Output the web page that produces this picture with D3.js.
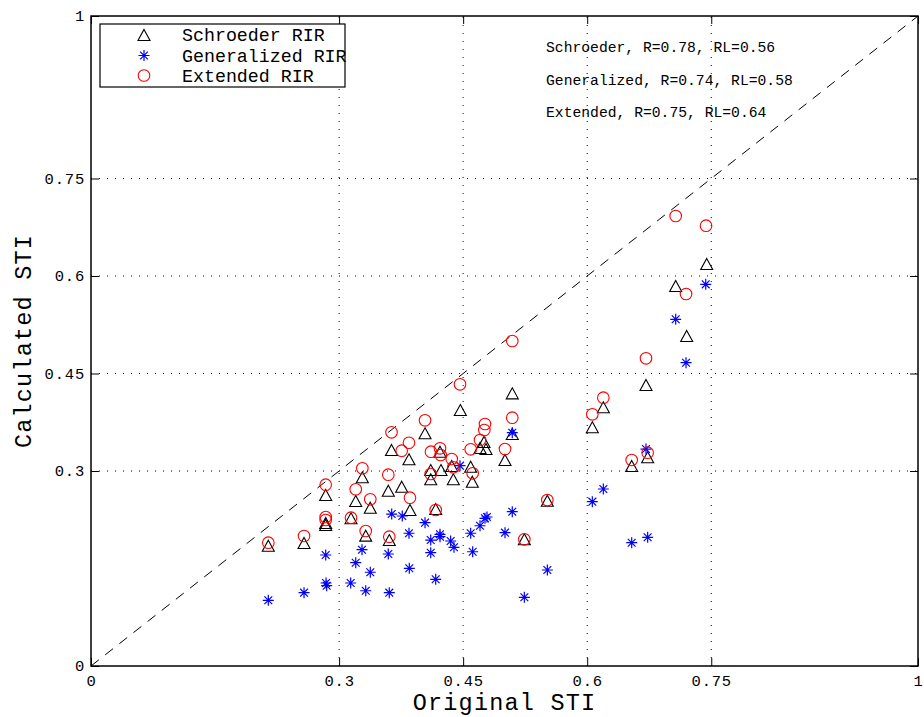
<!DOCTYPE html>
<html>
<head>
<meta charset="utf-8">
<script src="https://cdn.jsdelivr.net/npm/d3@7/dist/d3.min.js"></script>
<style>
  html, body { margin: 0; padding: 0; background: #fff; }
  svg { display: block; }
  text { font-family: "Liberation Mono", "DejaVu Sans Mono", monospace; fill: #000; }
</style>
</head>
<body>
<svg id="chart" width="924" height="717"></svg>
<script>
// Tick values shared by both axes
const tickValues = [0, 0.3, 0.45, 0.6, 0.75, 1];
const gridValues = [0.3, 0.45, 0.6, 0.75];

// Schroeder RIR: original STI vs calculated STI
const schroederX = [0.2144, 0.2576, 0.2838, 0.2838, 0.2838, 0.3144, 0.3201, 0.3281, 0.3322, 0.3377,
  0.3595, 0.3607, 0.3634, 0.3757, 0.3845, 0.3857, 0.4039, 0.4108, 0.4108, 0.4168,
  0.4220, 0.4232, 0.4362, 0.4381, 0.4466, 0.4591, 0.4611, 0.4704, 0.4752, 0.4776,
  0.5006, 0.5094, 0.5094, 0.5240, 0.5518, 0.6062, 0.6195, 0.6538, 0.6731, 0.6711,
  0.7070, 0.7203, 0.7445];
const schroederY = [0.1851, 0.1892, 0.2631, 0.2200, 0.2169, 0.2272, 0.2538, 0.2903, 0.2005, 0.2435,
  0.2697, 0.1938, 0.3323, 0.2758, 0.3180, 0.2400, 0.3580, 0.3015, 0.2872, 0.2415,
  0.3297, 0.3015, 0.3077, 0.2872, 0.3938, 0.3066, 0.2835, 0.3354, 0.3446, 0.3338,
  0.3169, 0.4195, 0.3569, 0.1949, 0.2543, 0.3672, 0.3980, 0.3077, 0.3211, 0.4323,
  0.5846, 0.5077, 0.6185];

// Generalized RIR
const generalizedX = [0.2144, 0.2576, 0.2838, 0.2842, 0.2850, 0.3140, 0.3201, 0.3277, 0.3322, 0.3377,
  0.3595, 0.3607, 0.3636, 0.3764, 0.3845, 0.3849, 0.4039, 0.4108, 0.4108, 0.4168,
  0.4220, 0.4220, 0.4349, 0.4389, 0.4462, 0.4591, 0.4615, 0.4704, 0.4764, 0.4788,
  0.5006, 0.5094, 0.5094, 0.5240, 0.5518, 0.6062, 0.6195, 0.6538, 0.6711, 0.6731,
  0.7070, 0.7195, 0.7433];
const generalizedY = [0.1011, 0.1128, 0.1708, 0.1277, 0.1235, 0.1277, 0.1589, 0.1789, 0.1158, 0.1442,
  0.1723, 0.1128, 0.2338, 0.2308, 0.2042, 0.1503, 0.2205, 0.1938, 0.1743, 0.1334,
  0.2026, 0.1989, 0.1923, 0.1826, 0.3082, 0.2042, 0.1758, 0.2158, 0.2272, 0.2292,
  0.2051, 0.3589, 0.2374, 0.1057, 0.1477, 0.2528, 0.2723, 0.1897, 0.3338, 0.1980,
  0.5334, 0.4666, 0.5872];

// Extended RIR
const extendedX = [0.2144, 0.2576, 0.2838, 0.2838, 0.2838, 0.3144, 0.3201, 0.3281, 0.3322, 0.3377,
  0.3595, 0.3607, 0.3634, 0.3757, 0.3845, 0.3857, 0.4039, 0.4111, 0.4108, 0.4168,
  0.4220, 0.4228, 0.4362, 0.4381, 0.4462, 0.4591, 0.4615, 0.4704, 0.4756, 0.4764,
  0.5006, 0.5094, 0.5094, 0.5240, 0.5518, 0.6062, 0.6195, 0.6538, 0.6731, 0.6711,
  0.7070, 0.7195, 0.7437];
const extendedY = [0.1897, 0.2000, 0.2789, 0.2292, 0.2246, 0.2282, 0.2718, 0.3042, 0.2077, 0.2565,
  0.2943, 0.1989, 0.3595, 0.3312, 0.3435, 0.2589, 0.3780, 0.3297, 0.2954, 0.2400,
  0.3349, 0.3246, 0.3185, 0.3057, 0.4334, 0.3334, 0.2965, 0.3477, 0.3631, 0.3723,
  0.3338, 0.5000, 0.3820, 0.1949, 0.2554, 0.3872, 0.4128, 0.3169, 0.3282, 0.4734,
  0.6923, 0.5723, 0.6774];

const seriesNames = ["Schroeder RIR", "Generalized RIR", "Extended RIR"];
const statLines = [
  "Schroeder, R=0.78, RL=0.56",
  "Generalized, R=0.74, RL=0.58",
  "Extended, R=0.75, RL=0.64"
];

const margin = { left: 91, top: 16, right: 6, bottom: 51 };
const W = 924, H = 717;
const svg = d3.select("#chart");

const x = d3.scaleLinear().domain([0, 1]).range([margin.left, W - margin.right]);
const y = d3.scaleLinear().domain([0, 1]).range([H - margin.bottom, margin.top]);

const x0 = x(0), x1 = x(1), y0 = y(0), y1 = y(1);

// Dotted grid
const grid = svg.append("g");
grid.selectAll("line.gx").data(gridValues).join("line")
  .attr("x1", d => x(d)).attr("x2", d => x(d)).attr("y1", y0).attr("y2", y1)
  .attr("stroke", "#000").attr("stroke-width", 1).attr("stroke-dasharray", "1,7");
grid.selectAll("line.gy").data(gridValues).join("line")
  .attr("y1", d => y(d)).attr("y2", d => y(d)).attr("x1", x0).attr("x2", x1)
  .attr("stroke", "#000").attr("stroke-width", 1).attr("stroke-dasharray", "1,7");

// Identity line
svg.append("line")
  .attr("x1", x(0)).attr("y1", y(0)).attr("x2", x(1)).attr("y2", y(1))
  .attr("stroke", "#000").attr("stroke-width", 1).attr("stroke-dasharray", "10,8");

// Axes with inward ticks, mirrored on all four sides
const tickLen = 8;
const fmt = d => String(d);
svg.append("g").attr("transform", `translate(0,${y0})`)
  .call(d3.axisBottom(x).tickValues(tickValues).tickSize(-tickLen).tickPadding(9).tickFormat(fmt))
  .call(g => g.select(".domain").remove())
  .call(g => g.selectAll("text").attr("font-size", 15.5).attr("letter-spacing", 0.8)
    .attr("font-family", "Liberation Mono"));
svg.append("g").attr("transform", `translate(${x0},0)`)
  .call(d3.axisLeft(y).tickValues(tickValues).tickSize(-tickLen).tickPadding(6).tickFormat(fmt))
  .call(g => g.select(".domain").remove())
  .call(g => g.selectAll("text").attr("font-size", 15.5).attr("letter-spacing", 0.8)
    .attr("font-family", "Liberation Mono"));
svg.append("g").attr("transform", `translate(0,${y1})`)
  .call(d3.axisTop(x).tickValues(tickValues).tickSize(-tickLen).tickFormat(""))
  .call(g => g.select(".domain").remove());
svg.append("g").attr("transform", `translate(${x1},0)`)
  .call(d3.axisRight(y).tickValues(tickValues).tickSize(-tickLen).tickFormat(""))
  .call(g => g.select(".domain").remove());

// Plot frame
svg.append("rect")
  .attr("x", x0).attr("y", y1).attr("width", x1 - x0).attr("height", y0 - y1)
  .attr("fill", "none").attr("stroke", "#000").attr("stroke-width", 1.5);

// Marker shapes
const triPath = "M0,-5.5L6,5.5L-6,5.5Z";
const s = 5.5, d45 = s * 0.7071;
const starPath = `M${-s},0L${s},0M0,${-s}L0,${s}M${-d45},${-d45}L${d45},${d45}M${-d45},${d45}L${d45},${-d45}`;

function drawTriangles(g, xs, ys) {
  g.selectAll("path.tri").data(xs.map((v, i) => [v, ys[i]])).join("path")
    .attr("class", "tri").attr("d", triPath)
    .attr("transform", d => `translate(${x(d[0])},${y(d[1])})`)
    .attr("fill", "none").attr("stroke", "#000").attr("stroke-width", 1.1);
}
function drawStars(g, xs, ys) {
  g.selectAll("path.star").data(xs.map((v, i) => [v, ys[i]])).join("path")
    .attr("class", "star").attr("d", starPath)
    .attr("transform", d => `translate(${x(d[0])},${y(d[1])})`)
    .attr("fill", "none").attr("stroke", "#0000ff").attr("stroke-width", 1.2);
}
function drawCircles(g, xs, ys) {
  g.selectAll("circle.c").data(xs.map((v, i) => [v, ys[i]])).join("circle")
    .attr("class", "c").attr("r", 5.8)
    .attr("cx", d => x(d[0])).attr("cy", d => y(d[1]))
    .attr("fill", "none").attr("stroke", "#ff0000").attr("stroke-width", 1.1);
}

drawTriangles(svg.append("g"), schroederX, schroederY);
drawStars(svg.append("g"), generalizedX, generalizedY);
drawCircles(svg.append("g"), extendedX, extendedY);

// Axis titles
svg.append("text").attr("x", (x0 + x1) / 2).attr("y", 710)
  .attr("text-anchor", "middle").attr("font-size", 23.5).attr("letter-spacing", 1.2)
  .text("Original STI");
svg.append("text")
  .attr("transform", `translate(31,${(y0 + y1) / 2}) rotate(-90)`)
  .attr("text-anchor", "middle").attr("font-size", 23.5).attr("letter-spacing", 1.2)
  .text("Calculated STI");

// Legend
const lg = svg.append("g");
lg.append("rect").attr("x", 100).attr("y", 24).attr("width", 245).attr("height", 63)
  .attr("fill", "#fff").attr("stroke", "#000").attr("stroke-width", 1.2);
const rowsY = [35, 55.5, 75.5];
lg.append("path").attr("d", triPath).attr("transform", `translate(144,${rowsY[0]})`)
  .attr("fill", "none").attr("stroke", "#000").attr("stroke-width", 1.1);
lg.append("path").attr("d", starPath).attr("transform", `translate(144,${rowsY[1]})`)
  .attr("fill", "none").attr("stroke", "#0000ff").attr("stroke-width", 1.2);
lg.append("circle").attr("cx", 144).attr("cy", rowsY[2]).attr("r", 5.8)
  .attr("fill", "none").attr("stroke", "#ff0000").attr("stroke-width", 1.1);
lg.selectAll("text").data(seriesNames).join("text")
  .attr("x", 182).attr("y", (d, i) => rowsY[i] + 6)
  .attr("font-size", 18.3).text(d => d);

// Correlation annotations
svg.selectAll("text.stat").data(statLines).join("text")
  .attr("class", "stat").attr("x", 546).attr("y", (d, i) => 52 + i * 32.5)
  .attr("font-size", 14.7).text(d => d);
</script>
</body>
</html>
